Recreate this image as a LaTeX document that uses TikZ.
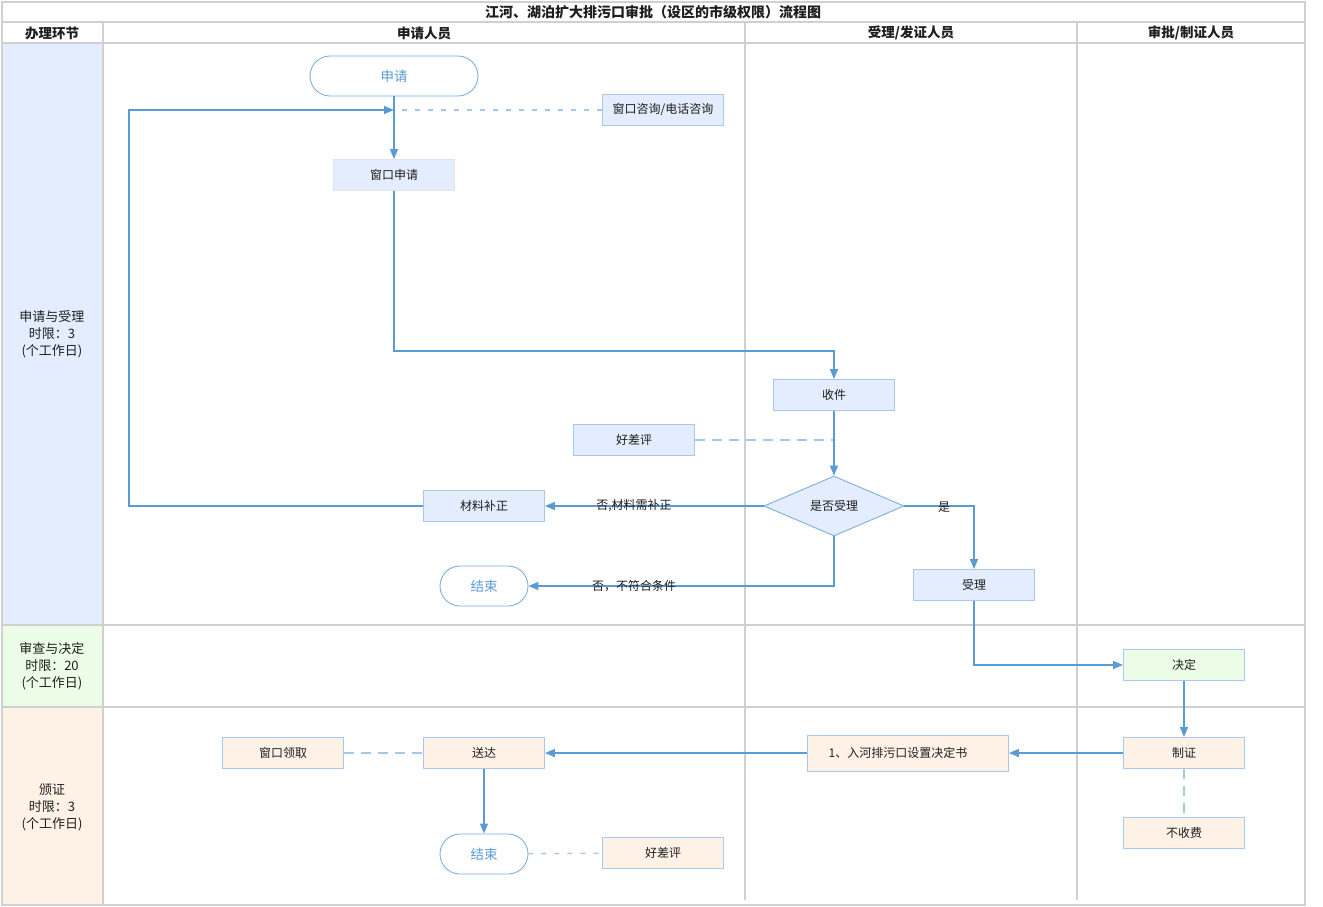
\documentclass[tikz,border=0pt]{standalone}
\usepackage{fontspec}
\setmainfont{Noto Sans CJK SC}
\usetikzlibrary{arrows.meta,shapes.geometric}
\definecolor{grid}{RGB}{208,208,208}
\definecolor{arr}{RGB}{91,155,213}
\definecolor{bord}{RGB}{169,200,236}
\definecolor{fblue}{RGB}{227,237,253}
\definecolor{fgreen}{RGB}{235,253,230}
\definecolor{forange}{RGB}{254,242,230}
\definecolor{txt}{RGB}{30,30,30}
\tikzset{
  box/.style={draw=bord,line width=0.9pt,minimum width=121pt,minimum height=31pt,inner sep=0pt,font=\fontsize{12}{14}\selectfont,text=txt},
  bbox/.style={box,fill=fblue},
  gbox/.style={box,fill=fgreen},
  obox/.style={box,fill=forange},
  term/.style={draw=arr!80,line width=0.9pt,fill=white,rounded corners=20pt,minimum height=40pt,inner sep=0pt,text=arr,font=\fontsize{13.5}{15}\selectfont},
  dec/.style={diamond,aspect=2.33,draw=arr!80,line width=0.9pt,fill=fblue,minimum width=140pt,minimum height=60pt,inner sep=0pt,font=\fontsize{12}{14}\selectfont,text=txt},
  flow/.style={draw=arr,line width=1.4pt,-{Triangle[length=10pt,width=8pt]}},
  dotl/.style={draw=arr!55,line width=1.4pt,dash pattern=on 5pt off 8pt},
  dashl/.style={draw=arr!55,line width=1.4pt,dash pattern=on 10pt off 7pt},
  lbl/.style={font=\fontsize{12}{14}\selectfont,text=txt,inner sep=1pt},
  hdr/.style={font=\bfseries\fontsize{13.5}{15}\selectfont,text=txt},
  side/.style={font=\fontsize{13}{17}\selectfont,text=txt,align=center},
  gl/.style={draw=grid,line width=1.5pt}
}
\begin{document}
\begin{tikzpicture}[x=1pt,y=-1pt]
\useasboundingbox (0,0) rectangle (1323,907);
\fill[white] (0,0) rectangle (1323,907);
% left column fills
\fill[fblue] (2,43) rectangle (103,625);
\fill[fgreen] (2,625) rectangle (103,707);
\fill[forange] (2,707) rectangle (103,905);
% grid
\draw[gl] (2,2) rectangle (1305,905);
\draw[gl] (2,22) -- (1305,22);
\draw[gl] (2,43) -- (1305,43);
\draw[gl] (2,625) -- (1305,625);
\draw[gl] (2,707) -- (1305,707);
\draw[gl] (103,22) -- (103,905);
\draw[gl] (745,22) -- (745,900);
\draw[gl] (1077,22) -- (1077,900);
% titles
\node[hdr,font=\bfseries\fontsize{14}{15}\selectfont] (title) at (653,12) {江河、湖泊扩大排污口审批（设区的市级权限）流程图};
\node[hdr] (h1) at (52,33) {办理环节};
\node[hdr] (h2) at (424,33) {申请人员};
\node[hdr] (h3) at (911,33) {受理/发证人员};
\node[hdr] (h4) at (1191,33) {审批/制证人员};
\node[side] (s1) at (52,334) {申请与受理\\时限：3\\(个工作日)};
\node[side] (s2) at (52,666) {审查与决定\\时限：20\\(个工作日)};
\node[side] (s3) at (52,807) {颁证\\时限：3\\(个工作日)};
% nodes
\node[term,minimum width=168pt] (start) at (394,76) {申请};
\node[bbox] (consult) at (663,110) {窗口咨询/电话咨询};
\node[bbox,draw=grid!60] (apply) at (394,175) {窗口申请};
\node[bbox] (recv) at (834,395) {收件};
\node[bbox] (eval1) at (634,440) {好差评};
\node[dec] (dec) at (834,506) {是否受理};
\node[bbox] (supp) at (484,506) {材料补正};
\node[term,minimum width=88pt] (end1) at (484,586) {结束};
\node[bbox] (accept) at (974,585) {受理};
\node[gbox] (decide) at (1184,665) {决定};
\node[obox] (cert) at (1184,753) {制证};
\node[obox] (nofee) at (1184,833) {不收费};
\node[obox,minimum width=201pt,minimum height=36pt] (doc) at (908,753) {\hspace*{-20pt}1、入河排污口设置决定书};
\node[obox] (deliver) at (484,753) {送达};
\node[obox] (pickup) at (283,753) {窗口领取};
\node[term,minimum width=88pt] (end2) at (484,854) {结束};
\node[obox] (eval2) at (663,853) {好差评};
% coordinates
\coordinate (j1) at (394,110);
\coordinate (l1) at (129,110);
\coordinate (l2) at (129,506);
\coordinate (c1) at (394,351);
\coordinate (c2) at (834,351);
\coordinate (c3) at (834,586);
\coordinate (c4) at (974,506);
\coordinate (c5) at (974,665);
\coordinate (c6) at (834,440);
% connectors
\draw[flow] (start) -- (apply);
\draw[dotl] ([xshift=8pt]j1) -- (consult.west);
\draw[flow] (supp.west) -- (l2) -- (l1) -- (j1);
\draw[flow] (apply.south) -- (c1) -- (c2) -- (recv.north);
\draw[dashl] (eval1.east) -- (c6);
\draw[flow] (recv) -- (dec);
\draw[flow] (dec.west) -- (supp.east);
\node[lbl] (lab1) at (634,506) {否,材料需补正};
\draw[flow] (dec.south) -- (c3) -- (end1.east);
\node[lbl] (lab2) at (634,586) {否，不符合条件};
\draw[flow] (dec.east) -- (c4) -- (accept.north);
\node[lbl] (lab3) at (944,507) {是};
\draw[flow] (accept.south) -- (c5) -- (decide.west);
\draw[flow] (decide) -- (cert);
\draw[dashl] (cert) -- (nofee);
\draw[flow] (cert.west) -- (doc.east);
\draw[flow] (doc.west) -- (deliver.east);
\draw[dashl] (pickup) -- (deliver);
\draw[flow] (deliver) -- (end2);
\draw[dotl] (end2) -- (eval2);
\end{tikzpicture}
\end{document}
